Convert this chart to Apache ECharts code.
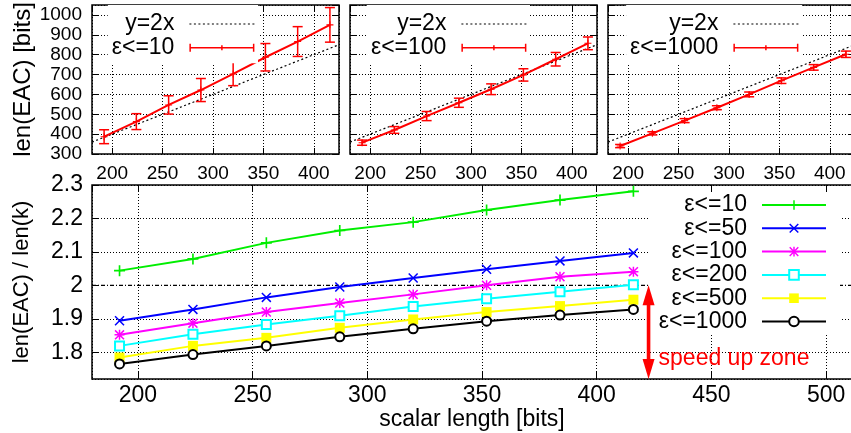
<!DOCTYPE html>
<html><head><meta charset="utf-8">
<script src="https://cdn.jsdelivr.net/npm/echarts@6/dist/echarts.min.js"></script>
<style>html,body{margin:0;padding:0;background:#fff}#c{width:851px;height:433px}</style>
</head><body><div id="c"></div>
<script>
// ---- data ----
const scalarLen = [192, 224, 256, 288, 320, 352, 384, 416];
const refX = [180, 425];
const refY = [360, 850];
const eac10 = [387, 463, 547, 622, 703, 787, 866, 950];
const err10 = [35, 40, 46, 58, 59, 69, 75, 87];
const eac100 = [357, 421, 491, 558, 626, 698, 777, 857];
const err100 = [13, 17, 23, 23, 27, 31, 34, 32];
const eac1000 = [340, 404, 468, 533, 600, 669, 736, 802];
const err1000 = [8, 8, 10, 10, 12, 14, 14, 16];
const topLabels = ['ε<=10', 'ε<=100', 'ε<=1000'];
const refLabel = 'y=2x';
const ratioLabels = ['ε<=10', 'ε<=50', 'ε<=100', 'ε<=200', 'ε<=500', 'ε<=1000'];
const ratio10 = [2.044, 2.079, 2.127, 2.164, 2.189, 2.225, 2.255, 2.281];
const ratio50 = [1.894, 1.928, 1.964, 1.995, 2.022, 2.048, 2.073, 2.097];
const ratio100 = [1.852, 1.887, 1.920, 1.947, 1.973, 2.000, 2.026, 2.041];
const ratio200 = [1.819, 1.854, 1.883, 1.909, 1.937, 1.960, 1.981, 2.002];
const ratio500 = [1.784, 1.819, 1.843, 1.873, 1.898, 1.920, 1.938, 1.957];
const ratio1000 = [1.765, 1.793, 1.819, 1.846, 1.870, 1.893, 1.911, 1.928];
const breakEvenX = [180, 520];
const breakEvenY = [2, 2];
const arrowX = 422.6, arrowTop = 2, arrowBottom = 1.72;
const zoneLabel = 'speed up zone';
const zoneLabelY = 1.78;

// ---- styles ----
const FONT = '"Liberation Sans", Arial, Helvetica, sans-serif';
const PLUS = 'path://M4.25 0h1.5v10h-1.5z M0 4.25h10v1.5h-10z';
const CROSS = 'path://M0 1.06L1.06 0L10 8.94L8.94 10Z M8.94 0L10 1.06L1.06 10L0 8.94Z';
const STAR = 'path://M4.25 0h1.5v10h-1.5z M0 4.25h10v1.5h-10z M0 1.06L1.06 0L10 8.94L8.94 10Z M8.94 0L10 1.06L1.06 10L0 8.94Z';
const ERRICON = 'path://M0 3.25h65v1.5h-65z M0 0h1.5v8h-1.5z M63.5 0h1.5v8h-1.5z M31.75 1.5h1.5v5h-1.5z';
const gridLine = {show: true, lineStyle: {color: '#000', type: [1, 2], width: 1}};
const BPRE = 'b:';

const chart = echarts.init(document.getElementById('c'), null, {renderer: 'canvas'});

const topGridLefts = [92, 350, 608];
const gridBase = {show: true, borderColor: '#000', borderWidth: 1.5, backgroundColor: 'transparent', containLabel: false, outerBoundsMode: 'none'};
const grids = topGridLefts.map(l => Object.assign({left: l, top: 5, width: 247, height: 149}, gridBase));
grids.push(Object.assign({left: 92, top: 185, width: 780, height: 194}, gridBase));

const tickTop = {inside: true, length: 6, lineStyle: {color: '#000', width: 1}};
const tickBot = {inside: true, length: 7, lineStyle: {color: '#000', width: 1}};
const numFmt = v => String(v);
const xAxes = [], yAxes = [];
for (let i = 0; i < 3; i++) {
  xAxes.push({type: 'value', gridIndex: i, min: 180, max: 425, splitNumber: 5,
    axisLine: {show: false}, axisTick: tickTop,
    axisLabel: {fontSize: 19, fontFamily: FONT, color: '#000', margin: 10, showMinLabel: false, showMaxLabel: false, formatter: numFmt},
    splitLine: gridLine});
  yAxes.push({type: 'value', gridIndex: i, min: 300, max: 1050, interval: 100,
    axisLine: {show: false}, axisTick: tickTop,
    axisLabel: {show: i === 0, fontSize: 19, fontFamily: FONT, color: '#000', margin: 10, showMaxLabel: false, formatter: numFmt},
    splitLine: gridLine,
    name: i === 0 ? 'len(EAC) [bits]' : '', nameLocation: 'middle', nameGap: 51,
    nameTextStyle: {fontSize: 24, fontFamily: FONT, color: '#000'}});
}
xAxes.push({type: 'value', gridIndex: 3, min: 180, max: 520, splitNumber: 5,
  axisLine: {show: false}, axisTick: tickBot,
  axisLabel: {fontSize: 23, fontFamily: FONT, color: '#000', margin: 5, showMinLabel: false, showMaxLabel: false, formatter: numFmt},
  splitLine: gridLine,
  name: 'scalar length [bits]', nameLocation: 'middle', nameGap: 23,
  nameTextStyle: {fontSize: 23, fontFamily: FONT, color: '#000', padding: [0, 20, 0, 0]}});
yAxes.push({type: 'value', gridIndex: 3, min: 1.72, max: 2.3, splitNumber: 5,
  axisLine: {show: false}, axisTick: tickBot,
  axisLabel: {fontSize: 23, fontFamily: FONT, color: '#000', margin: 9, showMinLabel: false, formatter: numFmt},
  splitLine: gridLine,
  name: 'len(EAC) / len(k)', nameLocation: 'middle', nameGap: 59,
  nameTextStyle: {fontSize: 22, fontFamily: FONT, color: '#000'}});
// mirrored ticks on top / right borders
for (let i = 0; i < 4; i++) {
  const bx = xAxes[i], by = yAxes[i];
  xAxes.push({type: 'value', gridIndex: i, position: 'top', min: bx.min, max: bx.max, splitNumber: bx.splitNumber,
    axisLine: {show: false}, axisTick: bx.axisTick, axisLabel: {show: false}, splitLine: {show: false}});
  yAxes.push({type: 'value', gridIndex: i, position: 'right', min: by.min, max: by.max, interval: by.interval, splitNumber: by.splitNumber,
    axisLine: {show: false}, axisTick: by.axisTick, axisLabel: {show: false}, splitLine: {show: false}});
}

function errRender(params, api) {
  const x = api.value(0), y = api.value(1), e = api.value(2);
  const t = api.coord([x, y + e]), b = api.coord([x, y - e]);
  const w = 5, st = {stroke: '#f00', lineWidth: 1.5};
  return {type: 'group', children: [
    {type: 'line', shape: {x1: t[0], y1: t[1], x2: b[0], y2: b[1]}, style: st},
    {type: 'line', shape: {x1: t[0] - w, y1: t[1], x2: t[0] + w, y2: t[1]}, style: st},
    {type: 'line', shape: {x1: b[0] - w, y1: b[1], x2: b[0] + w, y2: b[1]}, style: st}
  ]};
}

const series = [];
const topVals = [eac10, eac100, eac1000];
const topErrs = [err10, err100, err1000];
for (let i = 0; i < 3; i++) {
  series.push({type: 'line', name: refLabel, xAxisIndex: i, yAxisIndex: i,
    data: refX.map((x, k) => [x, refY[k]]), symbol: 'none',
    lineStyle: {color: '#000', width: 1.2, type: [2, 2.5]}, itemStyle: {color: '#000'}, z: 2});
  series.push({type: 'line', name: topLabels[i], xAxisIndex: i, yAxisIndex: i,
    data: scalarLen.map((x, k) => [x, topVals[i][k]]), symbol: PLUS, symbolSize: 7,
    lineStyle: {color: '#f00', width: 2}, itemStyle: {color: '#f00', borderWidth: 0}, z: 3});
  series.push({type: 'custom', name: topLabels[i], xAxisIndex: i, yAxisIndex: i,
    data: scalarLen.map((x, k) => [x, topVals[i][k], topErrs[i][k]]),
    renderItem: errRender, itemStyle: {color: '#f00'}, z: 3});
}
series.push({type: 'line', name: 'y=2', xAxisIndex: 3, yAxisIndex: 3,
  data: breakEvenX.map((x, k) => [x, breakEvenY[k]]), symbol: 'none',
  lineStyle: {color: '#000', width: 1.2, type: [4, 2, 1, 2]}, z: 2});
const ratios = [ratio10, ratio50, ratio100, ratio200, ratio500, ratio1000];
const colors = ['#00ee00', '#0000ff', '#ff00ff', '#00ffff', '#ffff00', '#000000'];
const symbols = [PLUS, CROSS, STAR, 'emptyRect', 'rect', 'emptyCircle'];
const sizes = [11, 10, 10, 9, 10, 9];
for (let j = 0; j < 6; j++) {
  const empty = symbols[j].indexOf('empty') === 0;
  series.push({type: 'line', name: BPRE + ratioLabels[j], xAxisIndex: 3, yAxisIndex: 3,
    data: scalarLen.map((x, k) => [x, ratios[j][k]]),
    symbol: symbols[j], symbolSize: sizes[j], showAllSymbol: true,
    lineStyle: {color: colors[j], width: 2},
    itemStyle: empty ? {color: colors[j], borderWidth: 1.5, borderColor: colors[j]} : {color: colors[j], borderWidth: 0},
    z: 3});
}
series.push({type: 'custom', name: 'arrow', xAxisIndex: 3, yAxisIndex: 3, z: 6,
  data: [[arrowX, arrowTop, arrowBottom, zoneLabelY]],
  renderItem: function (params, api) {
    const x = api.value(0);
    const t = api.coord([x, api.value(1)]), b = api.coord([x, api.value(2)]);
    const ly = api.coord([x, api.value(3)])[1];
    const hl = 20, hw = 6, sw = 1.8;
    return {type: 'group', children: [
      {type: 'rect', shape: {x: t[0] - sw, y: t[1] + hl - 1, width: 2 * sw, height: b[1] - t[1] - 2 * hl + 2}, style: {fill: '#f00'}},
      {type: 'polygon', shape: {points: [[t[0], t[1]], [t[0] - hw, t[1] + hl], [t[0] + hw, t[1] + hl]]}, style: {fill: '#f00'}},
      {type: 'polygon', shape: {points: [[b[0], b[1]], [b[0] - hw, b[1] - hl], [b[0] + hw, b[1] - hl]]}, style: {fill: '#f00'}},
      {type: 'text', x: t[0] + 10, y: ly, style: {text: zoneLabel, fill: '#f00', font: '23px ' + FONT, verticalAlign: 'middle', align: 'left'}}
    ]};
  }});

const legendText = {fontSize: 23, fontFamily: FONT, color: '#000', padding: [0, 10, 0, 0]};
const topLegendRights = [593, 321, 49];
const legends = topLegendRights.map((r, i) => ({
  orient: 'vertical', align: 'right', right: r, top: 5, itemWidth: 65, itemHeight: 8, itemGap: 0.7,
  padding: [7.5, 3, 4, 4], backgroundColor: '#fff', selectedMode: false,
  textStyle: legendText, lineStyle: {width: 1.2}, itemStyle: {borderWidth: 0},
  data: [{name: refLabel, itemStyle: {opacity: 0}}, {name: topLabels[i], icon: ERRICON}]
}));
legends.push({orient: 'vertical', align: 'right', right: 11, top: 193, itemWidth: 64, itemHeight: 12, itemGap: 0.3,
  padding: [0.5, 13, 1.5, 9], backgroundColor: '#fff', selectedMode: false,
  textStyle: legendText, lineStyle: {width: 2}, itemStyle: {borderWidth: 0},
  formatter: name => name.slice(BPRE.length),
  data: ratioLabels.map(n => BPRE + n)});

chart.setOption({
  animation: false,
  textStyle: {fontFamily: FONT},
  grid: grids, xAxis: xAxes, yAxis: yAxes, legend: legends, series: series
});
</script></body></html>
